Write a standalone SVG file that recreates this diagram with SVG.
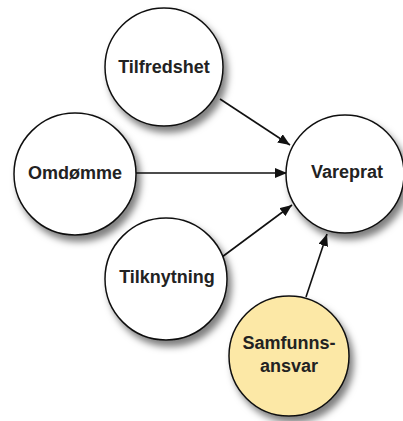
<svg xmlns="http://www.w3.org/2000/svg" width="403" height="421" viewBox="0 0 403 421">
<defs>
<filter id="sh" x="-30%" y="-30%" width="170%" height="170%">
<feDropShadow dx="4" dy="6" stdDeviation="3.5" flood-color="#000" flood-opacity="0.5"/>
</filter>
<marker id="ah" viewBox="0 0 12 10" refX="12" refY="5" markerWidth="12" markerHeight="10" markerUnits="userSpaceOnUse" orient="auto">
<path d="M0,0 L12,5 L0,10 Z" fill="#111"/>
</marker>
<style>
.n{fill:#fff;stroke:#111;stroke-width:1.5;filter:url(#sh)}
.y{fill:#fce8a6}
.t{font-family:"Liberation Sans",Arial,sans-serif;font-weight:bold;font-size:18px;fill:#222;text-anchor:middle}
.e{stroke:#111;stroke-width:1.6;fill:none;marker-end:url(#ah)}
</style>
</defs>
<rect width="403" height="421" fill="#fff"/>
<g id="edges">
<line class="e" x1="220" y1="99" x2="290" y2="145"/>
<line class="e" x1="136" y1="173" x2="287" y2="173"/>
<line class="e" x1="222" y1="257" x2="292" y2="205"/>
<line class="e" x1="306" y1="297" x2="327" y2="234"/>
</g>
<g id="tilfredshet"><circle class="n" cx="164" cy="67" r="59"/><text class="t" x="164" y="73">Tilfredshet</text></g>
<g id="omdomme"><circle class="n" cx="75" cy="174" r="61"/><text class="t" x="75" y="179">Omdømme</text></g>
<g id="tilknytning"><circle class="n" cx="166" cy="279" r="61"/><text class="t" x="167" y="283">Tilknytning</text></g>
<g id="vareprat"><circle class="n" cx="345" cy="174" r="59"/><text class="t" x="347" y="178">Vareprat</text></g>
<g id="samfunnsansvar"><circle class="n y" cx="289" cy="356" r="60"/><text class="t" x="289" y="349">Samfunns-</text><text class="t" x="289" y="372">ansvar</text></g>
</svg>
